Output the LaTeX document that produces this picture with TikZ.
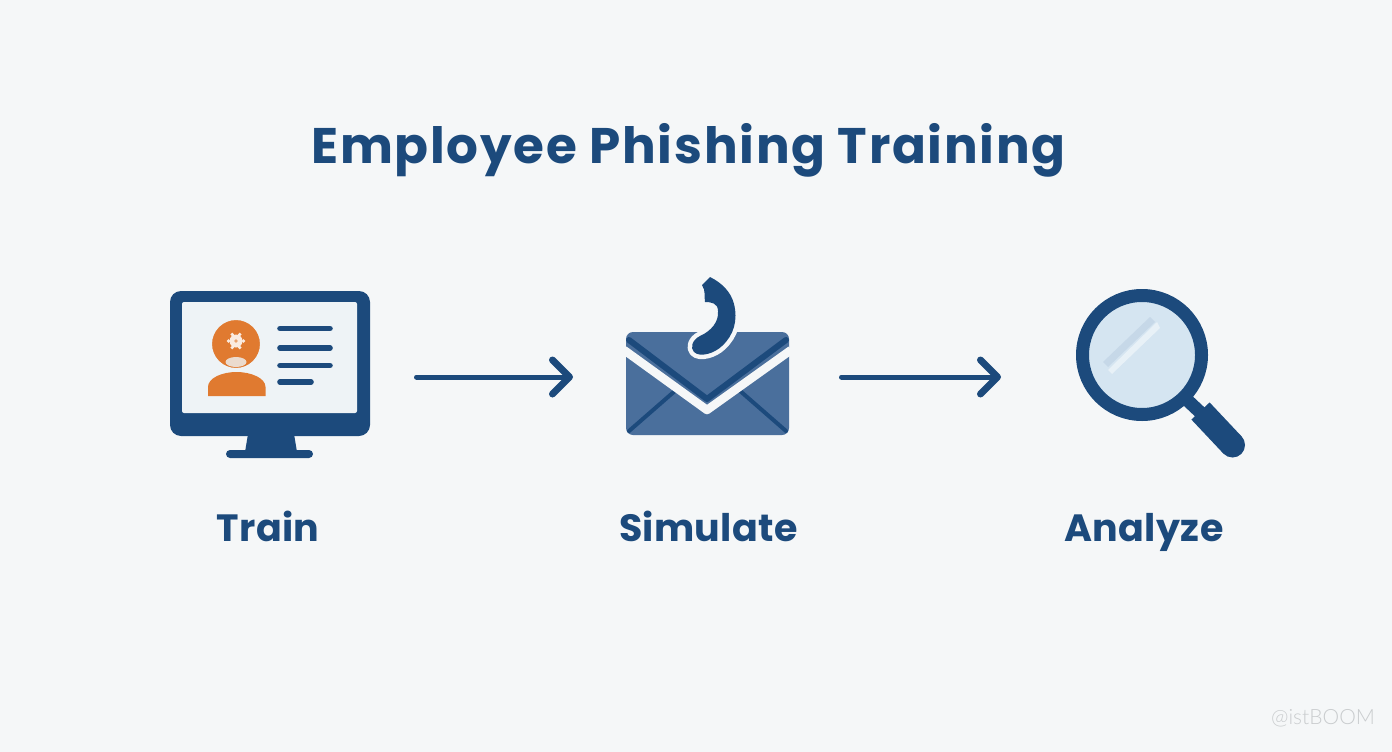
\documentclass[tikz,border=0pt]{standalone}
\usepackage{fontspec}
\setmainfont{Poppins}[LetterSpace=1]
\newfontfamily\titlefont{Poppins}[LetterSpace=3.5]
\newfontfamily\markfont{Lato Light}
\usetikzlibrary{arrows.meta}
\definecolor{bgc}{HTML}{F5F7F8}
\definecolor{navy}{HTML}{1C4A7C}
\definecolor{mail}{HTML}{4A6F9C}
\definecolor{orangeb}{HTML}{E07A30}
\definecolor{screenc}{HTML}{EEF3F6}
\definecolor{lens}{HTML}{D5E5F1}
\definecolor{wmark}{HTML}{C9CCCE}
\tikzset{
  x=1pt,y=-1pt,
  titletext/.style={font=\titlefont\bfseries\fontsize{50}{60}\selectfont,text=navy,inner sep=0pt,anchor=base},
  steplabel/.style={font=\bfseries\fontsize{38}{46}\selectfont,text=navy,inner sep=0pt,anchor=base},
  flowarrow/.style={draw=navy,line width=5pt,line cap=round,-{Straight Barb[length=17pt,width=34pt,round,line width=7pt]}},
  listline/.style={draw=navy,line width=5.6pt,line cap=round},
}
\begin{document}
\begin{tikzpicture}
\useasboundingbox (0,0) rectangle (1392,752);
\fill[bgc] (0,0) rectangle (1392,752);

\node[titletext] (title) at (688.5,163) {Employee Phishing Training};

% monitor
\fill[navy] (248,434) -- (294,434) -- (297,452) -- (245,452) -- cycle;
\fill[navy,rounded corners=4pt] (226,450) rectangle (313,458);
\node[draw=none,fill=navy,rounded corners=11pt,minimum width=200pt,minimum height=145pt,inner sep=0pt] (train) at (270,363.5) {};
\fill[screenc,rounded corners=2pt] (182,302) rectangle (357,413);
\fill[orangeb] (208,396) -- (208,387) .. controls (208,378) and (222,372) .. (236.5,372) .. controls (251,372) and (265.5,378) .. (265.5,387) -- (265.5,396) -- cycle;
\draw[screenc,line width=3pt,fill=orangeb] (236,344) circle (25.5);
\fill[screenc!80!orangeb] (236,362) ellipse (10.5 and 5);
\fill[white!85!orangeb] (236,341) circle (6.5);
\foreach \a in {0,60,...,300}{\fill[white!85!orangeb] (236,341) ++(\a:7.5) circle (1.8);}
\fill[orangeb!70!white] (236,341) circle (1.8);
\draw[listline] (280,328.5) -- (330,328.5);
\draw[listline] (280,348) -- (330,348);
\draw[listline] (280,365.5) -- (330,365.5);
\draw[listline] (280,382) -- (311,382);

% envelope
\node[fill=mail,rounded corners=7pt,minimum width=163pt,minimum height=103pt,inner sep=0pt] (simulate) at (707.5,383.5) {};
\draw[navy,line width=4pt,line cap=round] (629,431) -- (676,390);
\draw[navy,line width=4pt,line cap=round] (786,431) -- (739,390);
\draw[bgc,line width=8.5pt,line join=round] (624,350) -- (707,410) -- (791,350);
\draw[navy,line width=6pt,line join=round,line cap=round] (629,340) -- (707,399) -- (786,340);
% hook
\def\hookpath{(710,277) -- (702,285) .. controls (706,291) and (704,297) .. (705,302)
  .. controls (711,302) and (718,303) .. (718,311)
  .. controls (719,322) and (711,331) .. (700,336)
  .. controls (692,340) and (690,348) .. (694,352)
  .. controls (700,358) and (715,353) .. (722,346)
  .. controls (734,335) and (738,320) .. (734,304)
  .. controls (731,292) and (722,283) .. (710,277) -- cycle}
\draw[bgc,line width=9pt,line join=round] \hookpath;
\fill[navy] \hookpath;

% magnifier
\draw[navy,line width=13pt] (1185,398) -- (1202,414);
\draw[navy,line width=25pt] (1200.5,411) -- (1232.5,445);
\fill[navy] (1232.5,445) circle (12.5);
\node[circle,draw=navy,fill=lens,line width=13pt,minimum size=119pt,inner sep=0pt] (analyze) at (1142,355) {};
\fill[lens!92!navy] (1150,317) -- (1155,322) -- (1108,367) -- (1103,362) -- cycle;
\fill[white!45!lens] (1157,322) -- (1160,328) -- (1112,374) -- (1108,370) -- cycle;

% arrows
\coordinate (a1s) at (416.5,377);
\coordinate (a1e) at (573,377);
\coordinate (a2s) at (841.5,377);
\coordinate (a2e) at (1001,377);
\draw[flowarrow] (a1s) -- (a1e);
\draw[flowarrow] (a2s) -- (a2e);

% labels
\node[steplabel] (trainlabel) at (268,541.5) {Train};
\node[steplabel] (simlabel) at (708.5,541.5) {Simulate};
\node[steplabel] (analabel) at (1144,541.5) {Analyze};
\node[font=\markfont\fontsize{21}{24}\selectfont,text=wmark,inner sep=0pt,anchor=base] (wm) at (1323,724) {@istBOOM};
\end{tikzpicture}
\end{document}
